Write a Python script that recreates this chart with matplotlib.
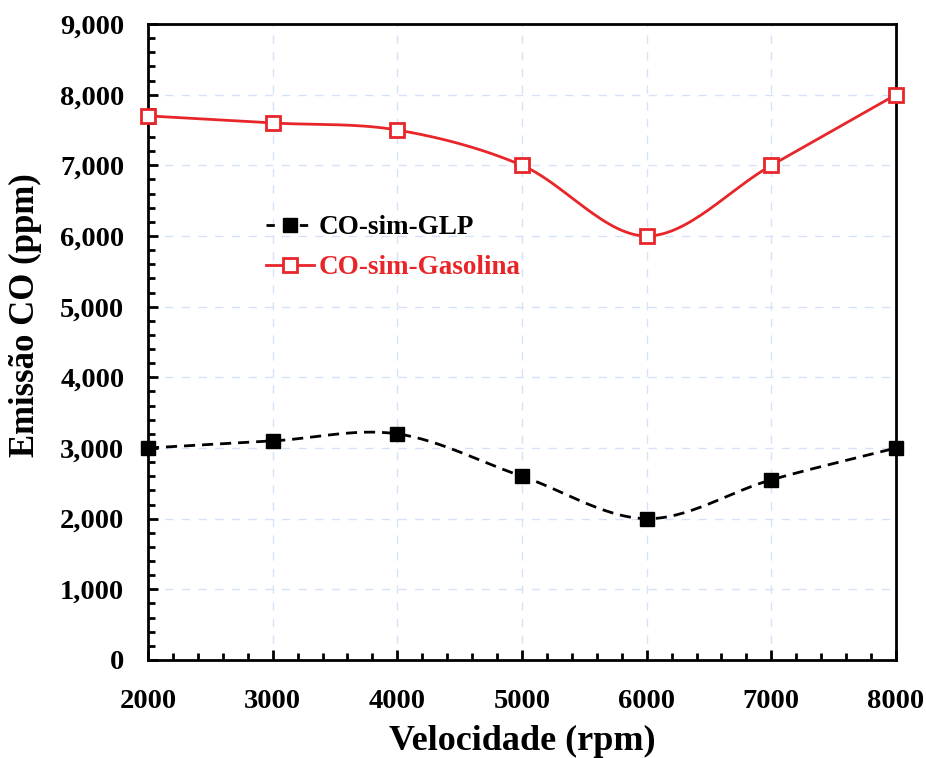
import numpy as np
import matplotlib
matplotlib.use("Agg")
import matplotlib.pyplot as plt
from matplotlib.ticker import MultipleLocator, FuncFormatter

rpm = [2000, 3000, 4000, 5000, 6000, 7000, 8000]
co_glp = [3000, 3100, 3200, 2600, 2000, 2550, 3000]
co_gasolina = [7700, 7600, 7500, 7000, 6000, 7000, 8000]
x_ticks = [2000, 3000, 4000, 5000, 6000, 7000, 8000]
xlabel = "Velocidade (rpm)"
ylabel = "Emissão CO (ppm)"
labels = ["CO-sim-GLP", "CO-sim-Gasolina"]

plt.rcParams['font.family'] = ['Liberation Serif', 'DejaVu Serif']
plt.rcParams['font.weight'] = 'bold'

RED = '#e8262a'


def smooth(x, y, n=30):
    # Catmull-Rom rendering of the line through the data points
    x = np.asarray(x, float); y = np.asarray(y, float)
    px = np.concatenate([[2 * x[0] - x[1]], x, [2 * x[-1] - x[-2]]])
    py = np.concatenate([[2 * y[0] - y[1]], y, [2 * y[-1] - y[-2]]])
    xs, ys = [], []
    t = np.linspace(0, 1, n, endpoint=False)
    for i in range(1, len(px) - 2):
        p0, p1, p2, p3 = [np.array([px[j], py[j]]) for j in (i - 1, i, i + 1, i + 2)]
        tt = t[:, None]
        pts = 0.5 * ((2 * p1) + (-p0 + p2) * tt + (2 * p0 - 5 * p1 + 4 * p2 - p3) * tt**2
                     + (-p0 + 3 * p1 - 3 * p2 + p3) * tt**3)
        xs.extend(pts[:, 0]); ys.extend(pts[:, 1])
    xs.append(x[-1]); ys.append(y[-1])
    return np.array(xs), np.array(ys)


fig = plt.figure(figsize=(9.26, 7.58), dpi=100)
ax = fig.add_axes([0.1598, 0.1293, 0.8078, 0.839])

sx, sy = smooth(rpm, co_glp)
ax.plot(sx, sy, color='black', lw=2, ls=(0, (4, 2.5)), zorder=3, clip_on=False)
ax.plot(rpm, co_glp, ls='none', marker='s', ms=10.5, color='black', zorder=4, clip_on=False)

sx, sy = smooth(rpm, co_gasolina)
ax.plot(sx, sy, color=RED, lw=2, zorder=3, clip_on=False)
ax.plot(rpm, co_gasolina, ls='none', marker='s', ms=10.5, mfc='white', mec=RED,
        mew=2, zorder=4, clip_on=False)

# legend proxies
h1, = ax.plot([], [], color='black', lw=2, ls=(0, (3, 3)), marker='s', ms=10)
h2, = ax.plot([], [], color=RED, lw=2, marker='s', ms=10, mfc='white', mew=2)
leg = ax.legend([h1, h2], labels, loc='center left', bbox_to_anchor=(0.158, 0.648),
                frameon=False, prop={'size': 19.5, 'weight': 'bold'}, handlelength=1.75,
                handletextpad=0.2, labelspacing=0.55, borderpad=0, borderaxespad=0)
leg.get_texts()[1].set_color(RED)

ax.set_xlim(2000, 8000)
ax.set_ylim(0, 9000)
ax.set_xticks(x_ticks)
ax.xaxis.set_minor_locator(MultipleLocator(200))
ax.yaxis.set_major_locator(MultipleLocator(1000))
ax.yaxis.set_minor_locator(MultipleLocator(200))
ax.yaxis.set_major_formatter(FuncFormatter(lambda v, p: f"{int(v):,}"))

ax.tick_params(which='both', direction='in', width=2, labelsize=20.5, top=False, right=False)
ax.tick_params(which='major', length=7)
ax.tick_params(which='minor', length=5)
ax.tick_params(axis='x', which='major', pad=21)
ax.tick_params(axis='y', which='major', pad=17)
for lab in ax.get_xticklabels() + ax.get_yticklabels():
    lab.set_fontweight('bold')

for s in ax.spines.values():
    s.set_linewidth(2)

ax.grid(True, which='major', color='#d6e2f5', ls=(0, (6, 6)), lw=1)
ax.set_axisbelow(True)

ax.set_xlabel(xlabel, fontsize=26, fontweight='bold', labelpad=8)
ax.set_ylabel(ylabel, fontsize=25, fontweight='bold')
ax.yaxis.set_label_coords(-0.142, 0.5425)

fig.savefig("out.png", dpi=100)
